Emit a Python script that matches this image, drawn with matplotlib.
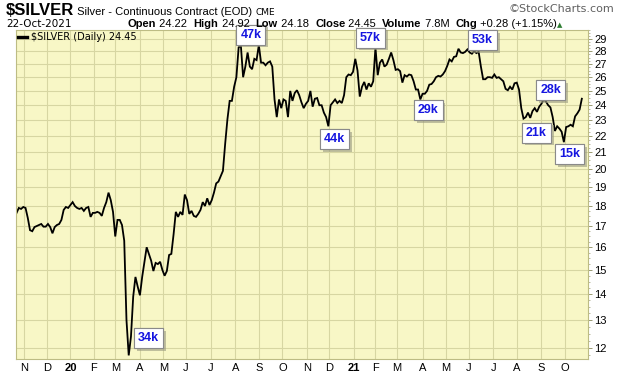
import numpy as np
import pandas as pd
import matplotlib
matplotlib.use("Agg")
import matplotlib.pyplot as plt
from matplotlib import patheffects
from matplotlib.ticker import FixedLocator, NullFormatter

# exchange holidays inside the window (no session that day)
holidays = ["2019-11-28", "2019-12-25", "2020-01-01", "2020-01-20", "2020-02-17",
            "2020-04-10", "2020-05-25", "2020-07-03", "2020-09-07", "2020-11-26",
            "2020-12-25", "2021-01-01", "2021-01-18", "2021-02-15", "2021-04-02",
            "2021-05-31", "2021-07-05", "2021-09-06"]
first_day = "2019-10-23"
last_day = "2021-10-22"

# daily close, every 2nd session
close = [
    17.65, 17.9, 17.85, 17.95, 17.9, 17.4, 16.8, 16.75, 16.95, 17.0,
    17.05, 17.1, 16.97, 16.97, 17.1, 16.95, 16.65, 16.95, 17.05, 17.1,
    17.3, 17.8, 17.95, 17.9, 18.05, 18.2, 18.0, 17.9, 17.85, 17.9,
    17.75, 17.9, 17.95, 17.45, 17.65, 17.65, 17.7, 17.65, 17.5, 17.9,
    18.2, 18.7, 18.3, 17.7, 16.5, 17.3, 17.3, 17.05, 16.3, 13.0,
    11.75, 12.4, 13.9, 14.7, 14.3, 13.95, 14.7, 15.35, 16.0, 15.7,
    15.4, 14.95, 15.3, 15.25, 15.35, 15.0, 14.75, 14.95, 15.65, 15.7,
    16.6, 17.7, 17.45, 17.7, 17.55, 18.6, 18.3, 17.6, 17.75, 17.5,
    17.45, 17.6, 17.8, 18.2, 18.0, 18.4, 18.05, 18.3, 18.7, 19.2,
    19.3, 19.6, 19.9, 21.5, 23.05, 24.3, 24.3, 25.3, 26.0, 28.3,
    28.45, 26.0, 26.8, 27.9, 26.8, 26.6, 27.4, 27.3, 28.5, 27.1,
    27.1, 26.9, 27.1, 27.2, 26.8, 24.4, 23.2, 24.4, 23.8, 24.4,
    24.3, 23.2, 25.0, 24.3, 24.85, 25.05, 24.7, 24.2, 23.8, 24.1,
    24.3, 25.0, 23.9, 24.45, 24.5, 24.0, 24.0, 23.5, 23.2, 22.6,
    24.0, 24.2, 24.4, 24.15, 24.3, 24.15, 24.7, 26.0, 26.2, 26.15,
    26.4, 27.4, 26.5, 24.6, 25.3, 25.65, 25.1, 25.55, 25.3, 25.7,
    28.3, 26.15, 27.1, 27.35, 26.8, 26.95, 27.4, 27.9, 27.3, 26.55,
    26.6, 26.45, 25.6, 26.15, 26.05, 26.2, 26.15, 25.7, 25.1, 25.1,
    24.4, 24.8, 24.8, 25.0, 25.45, 25.5, 25.7, 26.0, 26.1, 26.05,
    26.2, 26.45, 26.85, 27.35, 27.2, 27.55, 27.6, 28.2, 27.9, 27.85,
    27.95, 28.15, 27.9, 27.8, 28.0, 27.85, 27.95, 26.8, 25.85, 25.85,
    26.0, 26.0, 25.95, 26.2, 25.95, 26.0, 25.85, 25.7, 25.15, 25.05,
    25.3, 25.1, 25.55, 25.6, 25.1, 23.8, 23.1, 23.2, 23.5, 23.15,
    23.6, 23.8, 23.55, 23.9, 24.1, 24.4, 24.25, 24.0, 23.85, 23.2,
    22.3, 22.6, 22.45, 22.25, 21.6, 22.55, 22.6, 22.7, 22.6, 23.25,
    23.45, 23.7, 24.45,
]

# volume call-outs at swing points
vol_text = ["34k", "47k", "44k", "57k", "29k", "53k", "21k", "28k", "15k"]
vol_date = ["2020-03-18", "2020-08-10", "2020-11-30", "2021-02-01", "2021-03-29",
            "2021-05-28", "2021-08-10", "2021-09-03", "2021-09-30"]
vol_offset = [(20, 17), (10, 11), (6, -13), (-5, 10), (8, -11),
              (15, 9), (13, -14), (7, 9), (6, -12)]

price_ticks = list(range(12, 30))

W, H = 620, 376
BG = "#F8F7C6"
GRID = "#D7D6A2"
EDGE = "#BDBC84"

sessions = pd.bdate_range(first_day, last_day, freq="C", holidays=holidays)
pos = np.arange(len(sessions))
n = min(len(close), len(pos[::2]))
xs = pos[::2][:n]
ys = np.array(close[:n])
sample_days = sessions[::2][:n]

fig = plt.figure(figsize=(W / 100, H / 100), dpi=100)
ax = fig.add_axes([16 / W, 1 - 359 / H, (588 - 16) / W, (359 - 30) / H])
ax.set_facecolor(BG)

ax.plot(xs, ys, color="black", lw=1.3, label=r"\$SILVER (Daily) 24.45",
        solid_joinstyle="miter")

ax.set_yscale("log")
ax.set_ylim(11.63, 29.75)
ax.set_xlim(-0.5, 509.5)

ax.yaxis.tick_right()
ax.yaxis.set_major_locator(FixedLocator(price_ticks))
ax.yaxis.set_minor_locator(FixedLocator(np.arange(11.75, 29.76, 0.25)))
ax.yaxis.set_minor_formatter(NullFormatter())
ax.set_yticklabels([str(t) for t in price_ticks])
ax.tick_params(axis="y", which="major", length=3, width=0.7, color="#9A9A70",
               labelsize=8, pad=1.5)
ax.tick_params(axis="y", which="minor", length=1.5, width=0.6, color="#B0B090")

# month ticks on first session of each month
s = pd.Series(pos, index=sessions)
firsts = s.groupby([sessions.year, sessions.month]).first()
tick_pos, tick_lab, tick_bold = [], [], []
for (yr, mo), p in firsts.items():
    if p == 0:
        continue
    tick_pos.append(p)
    if mo == 1:
        tick_lab.append(str(yr)[2:])
        tick_bold.append(True)
    else:
        tick_lab.append(pd.Timestamp(yr, mo, 1).strftime("%b")[0])
        tick_bold.append(False)
ax.set_xticks(tick_pos)
ax.set_xticklabels(tick_lab)
for lab, b in zip(ax.get_xticklabels(), tick_bold):
    if b:
        lab.set_fontweight("bold")
ax.tick_params(axis="x", length=0, labelsize=8, pad=3)

for lab in ax.get_xticklabels() + ax.get_yticklabels():
    lab.set_family("Liberation Sans")

ax.grid(True, which="major", color=GRID, lw=0.8)
ax.set_axisbelow(True)
for sp in ax.spines.values():
    sp.set_color(EDGE)
    sp.set_linewidth(0.8)

leg = ax.legend(loc="upper left", frameon=False, fontsize=7, handlelength=0.9,
                handletextpad=0.4, borderaxespad=0.15, borderpad=0.1)
for h in leg.get_lines():
    h.set_linewidth(2.4)

# volume boxes
for txt, d, (dx, dy) in zip(vol_text, vol_date, vol_offset):
    i = int(np.argmin(np.abs(sample_days - pd.Timestamp(d))))
    t = ax.annotate(txt, xy=(xs[i], ys[i]), xytext=(dx, dy),
                    textcoords="offset pixels", ha="center", va="center",
                    fontsize=9, fontweight="bold", color="#1515E0",
                    family="Liberation Sans",
                    bbox=dict(boxstyle="square,pad=0.32", fc="white", ec="#8A8A8A", lw=0.8))
    t.get_bbox_patch().set_path_effects([
        patheffects.withSimplePatchShadow(offset=(2, -2), shadow_rgbFace="#9A9A80", alpha=0.6),
        patheffects.Normal()])

# header
hf = "Liberation Sans"
fig.canvas.draw()
r = fig.canvas.get_renderer()


def run_text(x, y, runs):
    for s_, size, weight, color, fam in runs:
        t = fig.text(x / W, 1 - y / H, s_, fontsize=size, fontweight=weight,
                     color=color, family=fam, va="baseline", ha="left")
        x += t.get_window_extent(r).width
    return x


run_text(6, 15, [(r"\$SILVER", 12, "bold", "black", hf),
                 (" Silver - Continuous Contract (EOD) ", 8, "normal", "black", hf),
                 ("CME", 6.5, "normal", "black", "DejaVu Sans")])
fig.text(614 / W, 1 - 12 / H, "\u00a9StockCharts.com", fontsize=8, color="#606060",
         family="DejaVu Sans", ha="right", va="baseline")
fig.text(6 / W, 1 - 27 / H, "22-Oct-2021", fontsize=7.5, family="DejaVu Sans",
         va="baseline")
run_text(128, 27, [("Open", 8, "bold", "black", hf), (" 24.22  ", 8, "normal", "black", hf),
                   ("High", 8, "bold", "black", hf), (" 24.92  ", 8, "normal", "black", hf),
                   ("Low", 8, "bold", "black", hf), (" 24.18  ", 8, "normal", "black", hf),
                   ("Close", 8, "bold", "black", hf), (" 24.45  ", 8, "normal", "black", hf),
                   ("Volume", 8, "bold", "black", hf), (" 7.8M  ", 8, "normal", "black", hf),
                   ("Chg", 8, "bold", "black", hf), (" +0.28 (+1.15%)", 8, "normal", "black", hf),
                   ("\u25b2", 5, "normal", "#2E7D32", "DejaVu Sans")])

fig.savefig("out.png", dpi=100, facecolor="white")
